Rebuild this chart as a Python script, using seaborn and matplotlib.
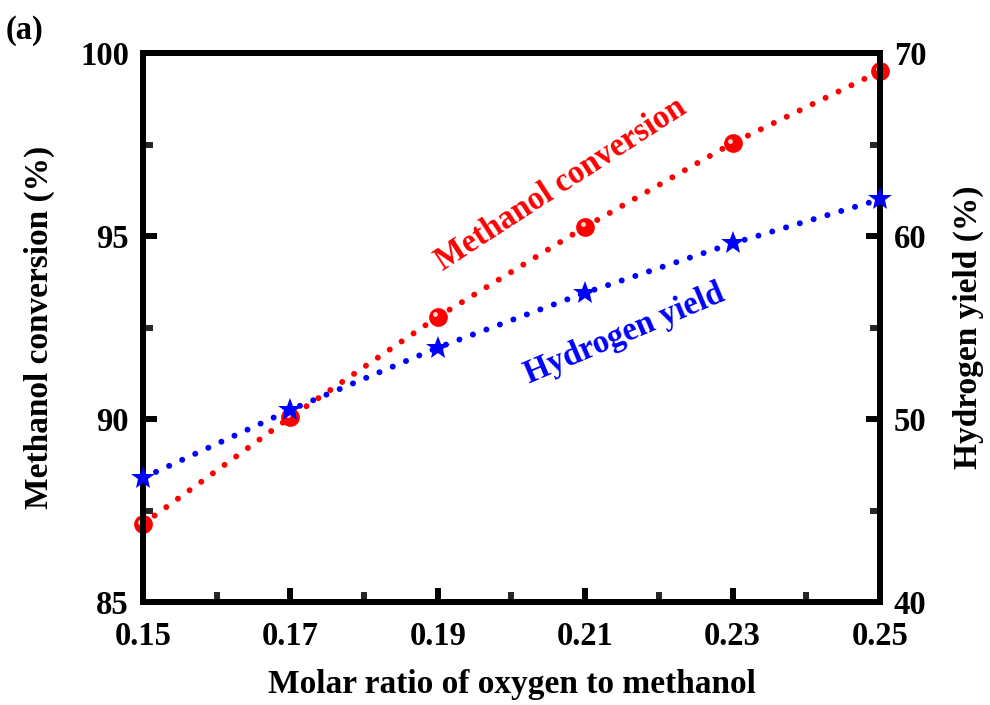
import matplotlib
matplotlib.use("Agg")
import matplotlib.pyplot as plt
import matplotlib.transforms as mtransforms
from matplotlib.ticker import MultipleLocator
import seaborn as sns
import pandas as pd

# ---- data ----
ratio = [0.15, 0.17, 0.19, 0.21, 0.23, 0.25]
methanol_conversion = [87.13, 90.05, 92.79, 95.25, 97.54, 99.50]
hydrogen_yield = [46.78, 50.50, 53.90, 56.90, 59.60, 62.00]
x_ticklabels = ["0.15", "0.17", "0.19", "0.21", "0.23", "0.25"]

sns.set_theme(style="white")
plt.rcParams['font.family'] = ['Liberation Serif', 'DejaVu Serif']
plt.rcParams['font.weight'] = 'bold'
plt.rcParams['axes.labelweight'] = 'bold'
plt.rcParams['text.color'] = 'black'
plt.rcParams['axes.labelcolor'] = 'black'

df = pd.DataFrame({"ratio": ratio, "conv": methanol_conversion, "h2": hydrogen_yield})

fig = plt.figure(figsize=(9.9, 7.05), dpi=100)
ax = fig.add_axes([0.1444, 0.1461, 0.8889 - 0.1444, 0.9248 - 0.1461])
ax2 = ax.twinx()

dot = (0, (0.01, 2.4))
sns.lineplot(data=df, x="ratio", y="conv", ax=ax, color="#ff0000", lw=4.3,
             linestyle=dot, marker="o", markersize=13.5, markeredgewidth=0,
             dash_capstyle="round", clip_on=False, zorder=3)
sns.lineplot(data=df, x="ratio", y="h2", ax=ax2, color="#0000ff", lw=4.3,
             linestyle=dot, marker="*", markersize=18, markeredgewidth=0,
             dash_capstyle="round", clip_on=False, zorder=3)

# small highlight on red spheres
off = mtransforms.ScaledTranslation(-2.5 / 100, 2.5 / 100, fig.dpi_scale_trans)
ax.plot(ratio, methanol_conversion, linestyle="none", marker="o", markersize=3.5,
        color="#ffd0d0", markeredgewidth=0, transform=ax.transData + off,
        zorder=5, clip_on=False)

ax.set_xlim(0.15, 0.25)
ax.set_ylim(85, 100)
ax2.set_ylim(40, 70)

ax.set_xticks(ratio)
ax.set_xticklabels(x_ticklabels)
ax.xaxis.set_minor_locator(MultipleLocator(0.01))
ax.yaxis.set_major_locator(MultipleLocator(5))
ax.yaxis.set_minor_locator(MultipleLocator(2.5))
ax2.yaxis.set_major_locator(MultipleLocator(10))
ax2.yaxis.set_minor_locator(MultipleLocator(5))

for a in (ax, ax2):
    for s in a.spines.values():
        s.set_linewidth(4.3)
        s.set_color("black")
    a.tick_params(which="major", direction="in", length=10, width=4.3,
                  labelsize=23.5, pad=10, colors="black")
    a.tick_params(which="minor", direction="in", length=7, width=4.3)
ax.tick_params(axis="x", which="both", top=False, bottom=True, pad=14)
ax.tick_params(axis="y", which="both", right=False, left=True)
ax2.tick_params(axis="y", which="both", right=True, left=False)
for lab in ax.get_xticklabels() + ax.get_yticklabels() + ax2.get_yticklabels():
    lab.set_fontweight("bold")

ax.set_xlabel("Molar ratio of oxygen to methanol", fontsize=24, fontweight="bold",
              labelpad=12, color="black")
ax.set_ylabel("Methanol conversion (%)", fontsize=24, fontweight="bold",
              labelpad=18, color="black")
ax2.set_ylabel("Hydrogen yield (%)", fontsize=24, fontweight="bold",
               labelpad=19, color="black")

ax.text(0.567, 0.76, "Methanol conversion", transform=ax.transAxes, color="#ff0000",
        fontsize=23.5, fontweight="bold", rotation=33, ha="center", va="center")
ax.text(0.653, 0.488, "Hydrogen yield", transform=ax.transAxes, color="#0000ff",
        fontsize=23.5, fontweight="bold", rotation=23, ha="center", va="center")
fig.text(0.006, 0.945, "(a)", fontsize=23.5, fontweight="bold", color="black")

fig.savefig("out.png", dpi=100)
